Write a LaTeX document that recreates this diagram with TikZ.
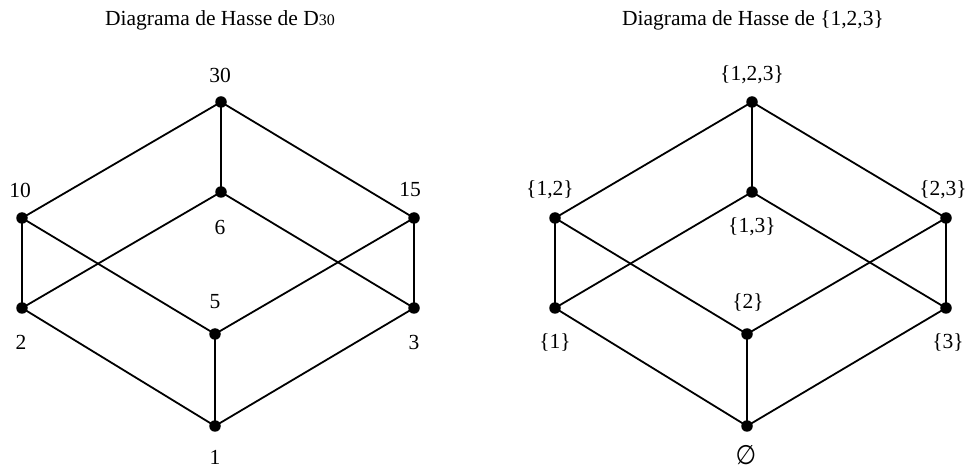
\documentclass[tikz,border=0pt]{standalone}
\usepackage{fontspec}
\setmainfont{Liberation Serif}
\newfontfamily\symfont{DejaVu Sans}
\begin{document}
\begin{tikzpicture}[x=1pt,y=-1pt,
  vtx/.style={circle,fill=black,inner sep=0pt,minimum size=11.5pt},
  lbl/.style={inner sep=0pt,font=\fontsize{21.5}{25}\selectfont},
  ttl/.style={inner sep=0pt,font=\fontsize{21.5}{25}\selectfont},
  edge/.style={line width=1.8pt}]
\useasboundingbox[fill=white] (0,0) rectangle (970,470);
% titles
\node[ttl] (t1) at (220,20) {Diagrama de Hasse de D{\fontsize{16}{19}\selectfont 30}};
\node[ttl] (t2) at (753,20) {Diagrama de Hasse de \{1,2,3\}};
% left vertices
\node[vtx] (n30) at (221,102) {};
\node[vtx] (n6) at (221,192) {};
\node[vtx] (n10) at (22,218) {};
\node[vtx] (n15) at (414,218) {};
\node[vtx] (n2) at (22,308) {};
\node[vtx] (n3) at (414,308) {};
\node[vtx] (n5) at (215,334) {};
\node[vtx] (n1) at (215,426) {};
\foreach \a/\b in {n30/n6,n30/n10,n30/n15,n10/n2,n15/n3,n10/n5,n15/n5,n6/n2,n6/n3,n2/n1,n3/n1,n5/n1}
  \draw[edge] (\a.center) -- (\b.center);
\node[lbl] (l30) at (220,75) {30};
\node[lbl] (l6) at (220,227) {6};
\node[lbl] (l10) at (20,190) {10};
\node[lbl] (l15) at (410,190) {15};
\node[lbl] (l2) at (21,342) {2};
\node[lbl] (l3) at (414,342) {3};
\node[lbl] (l5) at (215,302) {5};
\node[lbl] (l1) at (215,457) {1};
% right vertices
\node[vtx] (a123) at (752,102) {};
\node[vtx] (a13) at (752,192) {};
\node[vtx] (a12) at (555,218) {};
\node[vtx] (a23) at (946,218) {};
\node[vtx] (a1) at (555,308) {};
\node[vtx] (a3) at (946,308) {};
\node[vtx] (a2) at (747,334) {};
\node[vtx] (a0) at (747,426) {};
\foreach \a/\b in {a123/a13,a123/a12,a123/a23,a12/a1,a23/a3,a12/a2,a23/a2,a13/a1,a13/a3,a1/a0,a3/a0,a2/a0}
  \draw[edge] (\a.center) -- (\b.center);
\node[lbl] (m123) at (752,75) {\{1,2,3\}};
\node[lbl] (m13) at (752,227) {\{1,3\}};
\node[lbl] (m12) at (550,190) {\{1,2\}};
\node[lbl] (m23) at (943,190) {\{2,3\}};
\node[lbl] (m1) at (555,342) {\{1\}};
\node[lbl] (m3) at (948,342) {\{3\}};
\node[lbl] (m2) at (748,302) {\{2\}};
\node[lbl] (m0) at (746,455) {\symfont\scalebox{1.1}[1.25]{∅}};
\end{tikzpicture}
\end{document}
